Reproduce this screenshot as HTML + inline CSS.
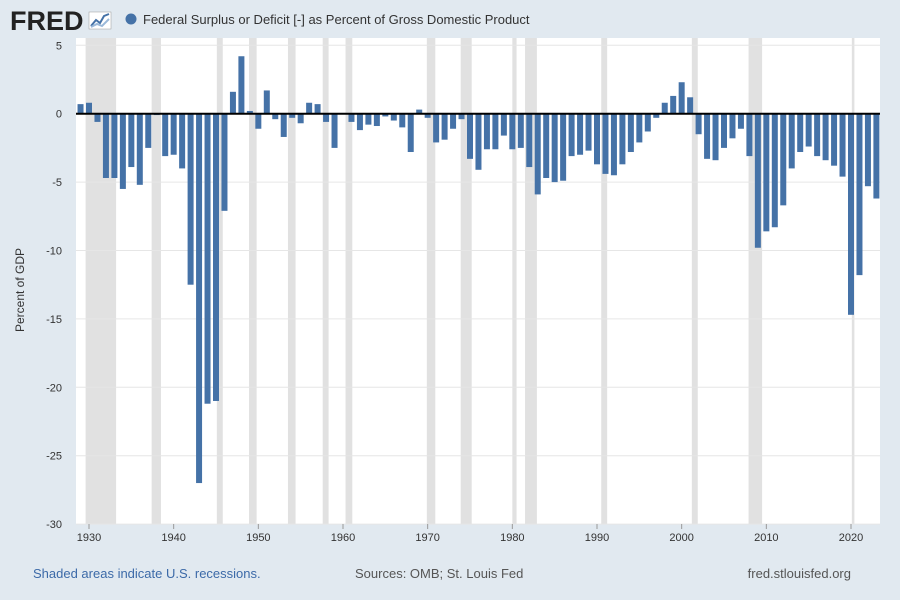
<!DOCTYPE html>
<html><head><meta charset="utf-8"><style>
body{margin:0;background:#e1e9f0;font-family:"Liberation Sans",sans-serif;}
#wrap{position:relative;width:900px;height:600px;overflow:hidden;background:#e1e9f0}
</style></head><body>
<div id="wrap">
<svg id="svg" width="900" height="600" xmlns="http://www.w3.org/2000/svg">
<text x="10" y="30" font-size="27" font-weight="bold" fill="#222" font-family="Liberation Sans, sans-serif">FRED</text>
<g><rect x="89" y="12" width="22" height="17" fill="#fff" stroke="#999" stroke-width="0.5"/><polyline points="91,26 96,20 100,23 104,16 109,14" fill="none" stroke="#4572a7" stroke-width="2"/><polyline points="91,27 97,24 102,26 109,19" fill="none" stroke="#9bb9d9" stroke-width="2"/></g>
<circle cx="131" cy="19" r="5.5" fill="#4572a7"/>
<text x="143" y="24" font-size="13" fill="#333">Federal Surplus or Deficit [-] as Percent of Gross Domestic Product</text>
<rect x="76" y="38" width="804" height="486" fill="#fff"/>
<g id="rec"></g><g id="grid"></g><g id="bars"></g><g id="xt"></g>
<text transform="translate(24,290) rotate(-90)" font-size="12" fill="#333" text-anchor="middle">Percent of GDP</text>
<text x="33" y="578" font-size="13" fill="#3c6aa8">Shaded areas indicate U.S. recessions.</text>
<text x="355" y="578" font-size="13" fill="#555">Sources: OMB; St. Louis Fed</text>
<text x="851" y="578" font-size="13" fill="#555" text-anchor="end">fred.stlouisfed.org</text>
</svg></div>
<script>
const years=[];for(let y=1929;y<=2023;y++)years.push(y);
const values=[0.7,0.8,-0.6,-4.7,-4.7,-5.5,-3.9,-5.2,-2.5,-0.1,-3.1,-3.0,-4.0,-12.5,-27.0,-21.2,-21.0,-7.1,1.6,4.2,0.2,-1.1,1.7,-0.4,-1.7,-0.3,-0.7,0.8,0.7,-0.6,-2.5,0.0,-0.6,-1.2,-0.8,-0.9,-0.2,-0.5,-1.0,-2.8,0.3,-0.3,-2.1,-1.9,-1.1,-0.4,-3.3,-4.1,-2.6,-2.6,-1.6,-2.6,-2.5,-3.9,-5.9,-4.7,-5.0,-4.9,-3.1,-3.0,-2.7,-3.7,-4.4,-4.5,-3.7,-2.8,-2.1,-1.3,-0.3,0.8,1.3,2.3,1.2,-1.5,-3.3,-3.4,-2.5,-1.8,-1.1,-3.1,-9.8,-8.6,-8.3,-6.7,-4.0,-2.8,-2.4,-3.1,-3.4,-3.8,-4.6,-14.7,-11.8,-5.3,-6.2];
const yTicks=[5,0,-5,-10,-15,-20,-25,-30];
const xTicks=[1930,1940,1950,1960,1970,1980,1990,2000,2010,2020];
const recStart=[1929.6,1937.4,1945.1,1948.9,1953.5,1957.6,1960.3,1969.9,1973.9,1980.0,1981.5,1990.5,2001.2,2007.9,2020.1];
const recEnd=[1933.2,1938.5,1945.8,1949.8,1954.4,1958.3,1961.1,1970.9,1975.2,1980.5,1982.9,1991.2,2001.9,2009.5,2020.4];
const ns="http://www.w3.org/2000/svg";
const X=y=>89+(y-1930)*(851-89)/90;
const Y=v=>113.7-v*68.4/5;
function mk(t,a,p){const e=document.createElementNS(ns,t);for(const k in a)e.setAttribute(k,a[k]);document.getElementById(p).appendChild(e);return e;}
recStart.forEach((s,i)=>{const e=mk('rect',{x:X(s),y:38,width:X(recEnd[i])-X(s),height:486,fill:'#e1e1e1'},'rec');

});
yTicks.forEach(v=>{const l=mk('line',{x1:76,x2:880,y1:Y(v),y2:Y(v),stroke:'#e6e6e6'},'grid');


const t=mk('text',{x:62,y:Y(v)+4,'font-size':11,fill:'#333','text-anchor':'end'},'grid');t.textContent=v;

});
xTicks.forEach(v=>{const t=mk('text',{x:X(v),y:541,'font-size':11,fill:'#333','text-anchor':'middle'},'xt');t.textContent=v;


const l=mk('line',{x1:X(v),x2:X(v),y1:524,y2:529,stroke:'#999'},'xt');

});
years.forEach((y,i)=>{const v=values[i];const y0=Y(0),y1=Y(v);
const b=mk('rect',{x:X(y)-3,y:Math.min(y0,y1),width:6,height:Math.abs(y1-y0),fill:'#4572a7'},'bars');

});
const z=mk('line',{x1:76,x2:880,y1:Y(0),y2:Y(0),stroke:'#000','stroke-width':2},'bars');


</script>
</body></html>
